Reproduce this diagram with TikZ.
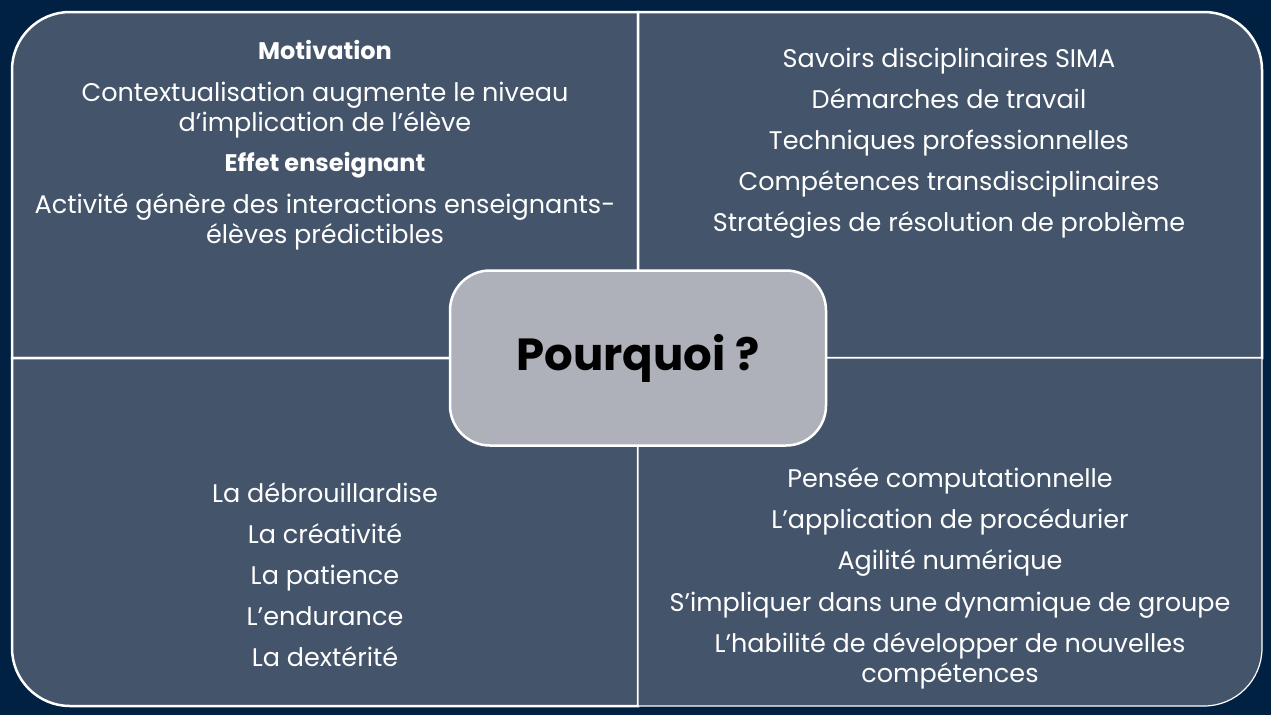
\documentclass[tikz,border=0pt]{standalone}
\usepackage{fontspec}
\setmainfont{Poppins}
\definecolor{bgnavy}{HTML}{002142}
\definecolor{quadfill}{HTML}{44546A}
\definecolor{centrefill}{HTML}{AEB1B9}
\begin{document}
\begin{tikzpicture}[x=1pt,y=-1pt,
  quadbox/.style={fill=quadfill,draw=white,line width=2.5pt},
  txt/.style={text=white,font=\fontsize{25.5}{30}\selectfont,inner sep=0pt,anchor=base},
  btxt/.style={text=white,font=\fontsize{24}{30}\selectfont\bfseries,inner sep=0pt,anchor=base},
  centrebox/.style={draw=white,line width=2.5pt,fill=centrefill,rounded corners=40pt,
    minimum width=376pt,minimum height=175pt,font=\fontsize{45}{50}\selectfont\bfseries,text=black}]
\useasboundingbox (0,0) rectangle (1271,715);
\fill[bgnavy] (0,0) rectangle (1271,715);
% quadrants
\draw[quadbox] (638,358) -- (12,358) -- (12,70) arc (180:270:58) -- (638,12) -- cycle;
\draw[quadbox] (638,12) -- (1204,12) arc (270:360:58) -- (1262,358) -- (638,358) -- cycle;
\draw[quadbox] (638,358) -- (638,706) -- (70,706) arc (90:180:58) -- (12,358) -- cycle;
\draw[quadbox,line width=1.2pt] (638,358) -- (1262,358) -- (1262,648) arc (0:90:58) -- (638,706) -- cycle;
% centre
\node[centrebox] (pq) at (638,358) {Pourquoi ?};
% top-left
\node[btxt] (tl1) at (325,59) {Motivation};
\node[txt] (tl2) at (325,101) {Contextualisation augmente le niveau};
\node[txt] (tl3) at (325,131) {d’implication de l’élève};
\node[btxt] (tl4) at (325,171) {Effet enseignant};
\node[txt] (tl5) at (325,213) {Activité génère des interactions enseignants-};
\node[txt] (tl6) at (325,243) {élèves prédictibles};
% top-right
\node[txt] (tr1) at (949,67) {Savoirs disciplinaires SIMA};
\node[txt] (tr2) at (949,108) {Démarches de travail};
\node[txt] (tr3) at (949,149) {Techniques professionnelles};
\node[txt] (tr4) at (949,190) {Compétences transdisciplinaires};
\node[txt] (tr5) at (949,231) {Stratégies de résolution de problème};
% bottom-left
\node[txt] (bl1) at (325,502) {La débrouillardise};
\node[txt] (bl2) at (325,543) {La créativité};
\node[txt] (bl3) at (325,584) {La patience};
\node[txt] (bl4) at (325,625) {L’endurance};
\node[txt] (bl5) at (325,666) {La dextérité};
% bottom-right
\node[txt] (br1) at (950,487) {Pensée computationnelle};
\node[txt] (br2) at (950,528) {L’application de procédurier};
\node[txt] (br3) at (950,569) {Agilité numérique};
\node[txt] (br4) at (950,611) {S’impliquer dans une dynamique de groupe};
\node[txt] (br5) at (950,652) {L’habilité de développer de nouvelles};
\node[txt] (br6) at (950,682) {compétences};
\end{tikzpicture}
\end{document}
